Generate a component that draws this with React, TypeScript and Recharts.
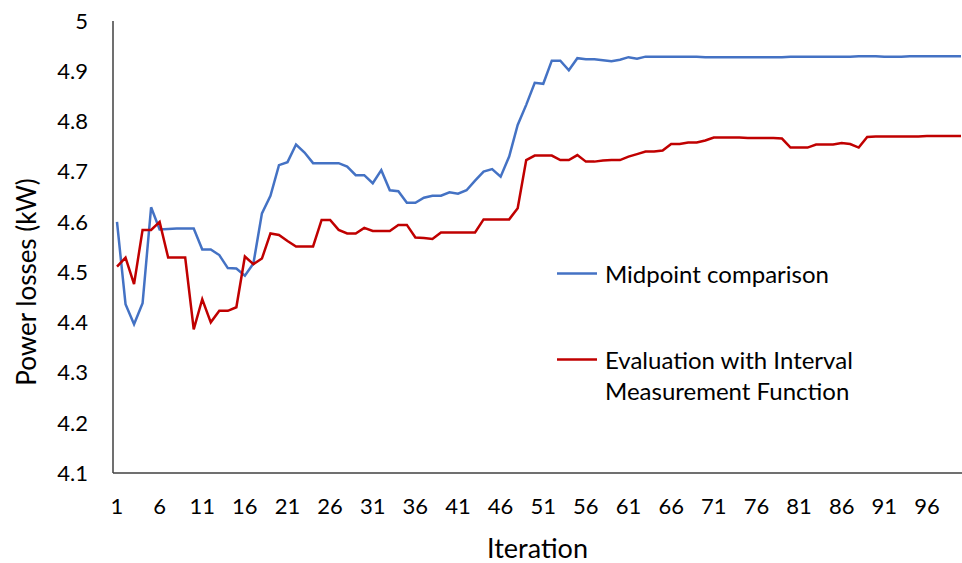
import React from 'react';
import { LineChart, Line, XAxis, YAxis, Label } from 'recharts';

const iterations = [
  1, 2, 3, 4, 5, 6, 7, 8, 9, 10, 11, 12, 13, 14, 15, 16, 17, 18, 19, 20,
  21, 22, 23, 24, 25, 26, 27, 28, 29, 30, 31, 32, 33, 34, 35, 36, 37, 38, 39, 40,
  41, 42, 43, 44, 45, 46, 47, 48, 49, 50, 51, 52, 53, 54, 55, 56, 57, 58, 59, 60,
  61, 62, 63, 64, 65, 66, 67, 68, 69, 70, 71, 72, 73, 74, 75, 76, 77, 78, 79, 80,
  81, 82, 83, 84, 85, 86, 87, 88, 89, 90, 91, 92, 93, 94, 95, 96, 97, 98, 99, 100,
];

const midpointComparison = [
  4.600, 4.436, 4.396, 4.438, 4.629, 4.585, 4.586, 4.587, 4.587, 4.587,
  4.545, 4.545, 4.534, 4.508, 4.507, 4.493, 4.517, 4.617, 4.652, 4.713,
  4.719, 4.754, 4.738, 4.717, 4.717, 4.717, 4.717, 4.710, 4.693, 4.693,
  4.677, 4.703, 4.663, 4.661, 4.638, 4.638, 4.648, 4.652, 4.652, 4.659,
  4.656, 4.663, 4.682, 4.700, 4.705, 4.690, 4.730, 4.793, 4.833, 4.877,
  4.875, 4.921, 4.921, 4.902, 4.926, 4.924, 4.924, 4.922, 4.920, 4.923,
  4.928, 4.925, 4.929, 4.929, 4.929, 4.929, 4.929, 4.929, 4.929, 4.928,
  4.928, 4.928, 4.928, 4.928, 4.928, 4.928, 4.928, 4.928, 4.928, 4.929,
  4.929, 4.929, 4.929, 4.929, 4.929, 4.929, 4.929, 4.930, 4.930, 4.930,
  4.929, 4.929, 4.929, 4.930, 4.930, 4.930, 4.930, 4.930, 4.930, 4.930,
];

const intervalEvaluation = [
  4.511, 4.529, 4.476, 4.584, 4.584, 4.600, 4.529, 4.529, 4.529, 4.386,
  4.446, 4.400, 4.423, 4.423, 4.430, 4.531, 4.516, 4.527, 4.577, 4.574,
  4.562, 4.551, 4.551, 4.551, 4.604, 4.604, 4.584, 4.577, 4.577, 4.588,
  4.582, 4.582, 4.582, 4.594, 4.594, 4.569, 4.568, 4.566, 4.579, 4.579,
  4.579, 4.579, 4.579, 4.605, 4.605, 4.605, 4.605, 4.627, 4.723, 4.732,
  4.732, 4.732, 4.723, 4.723, 4.733, 4.720, 4.720, 4.722, 4.723, 4.723,
  4.730, 4.735, 4.740, 4.740, 4.742, 4.755, 4.755, 4.758, 4.758, 4.762,
  4.768, 4.768, 4.768, 4.768, 4.767, 4.767, 4.767, 4.767, 4.766, 4.748,
  4.748, 4.748, 4.754, 4.754, 4.754, 4.757, 4.755, 4.748, 4.769, 4.770,
  4.770, 4.770, 4.770, 4.770, 4.770, 4.771, 4.771, 4.771, 4.771, 4.771,
];

const yTicks = [4.1, 4.2, 4.3, 4.4, 4.5, 4.6, 4.7, 4.8, 4.9, 5.0];

const seriesNames = ['Midpoint comparison', 'Evaluation with Interval Measurement Function'];
const legendLines = [['Midpoint comparison'], ['Evaluation with Interval', 'Measurement Function']];

const BLUE = '#4472C4';
const RED = '#C00000';
const seriesColors = [BLUE, RED];
const FONT = 'Lato, "Open Sans", sans-serif';
const AXIS = '#404040';

const data = iterations.map((it, i) => ({
  iteration: it,
  midpoint: midpointComparison[i],
  interval: intervalEvaluation[i],
}));

function ChartLegend() {
  return (
    <div
      style={{
        position: 'absolute',
        left: 555,
        top: 258,
        fontFamily: FONT,
        fontSize: 24,
        color: '#000',
      }}
    >
      {legendLines.map((lines, idx) => (
        <div
          key={idx}
          title={seriesNames[idx]}
          style={{ display: 'flex', alignItems: 'flex-start', marginTop: idx === 0 ? 0 : 55 }}
        >
          <svg width={50} height={31} style={{ flex: 'none' }}>
            <line x1={2} x2={42} y1={15.5} y2={15.5} stroke={seriesColors[idx]} strokeWidth={2.5} />
          </svg>
          <div style={{ lineHeight: '31px', whiteSpace: 'nowrap' }}>
            {lines.map((t, j) => (
              <div key={j}>{t}</div>
            ))}
          </div>
        </div>
      ))}
    </div>
  );
}

export default function App() {
  return (
    <div style={{ position: 'absolute', left: 0, top: 0, width: 962, height: 563, background: '#fff' }}>
      <LineChart
        width={962}
        height={563}
        data={data}
        margin={{ top: 21, right: 0, left: 0, bottom: 0 }}
      >
        <XAxis
          dataKey="iteration"
          interval={4}
          height={90}
          tickLine={false}
          tickSize={0}
          tickMargin={25}
          padding={{ left: 4, right: 1 }}
          axisLine={{ stroke: AXIS, strokeWidth: 1.5 }}
          tick={{ fill: '#000', fontSize: 22, fontFamily: FONT }}
        >
          <Label
            value="Iteration"
            position="insideBottom"
            offset={5}
            style={{ fill: '#000', fontSize: 27, fontFamily: FONT }}
          />
        </XAxis>
        <YAxis
          type="number"
          domain={[4.1, 5.0]}
          ticks={yTicks}
          width={113}
          tickLine={false}
          tickSize={0}
          tickMargin={25}
          interval={0}
          allowDataOverflow
          axisLine={{ stroke: AXIS, strokeWidth: 1.5 }}
          tick={{ fill: '#000', fontSize: 22, fontFamily: FONT }}
          tickFormatter={(v: number) => String(Number(v.toFixed(1)))}
        >
          <Label
            value="Power losses (kW)"
            angle={-90}
            position="insideLeft"
            offset={0}
            dx={27}
            dy={35}
            style={{ fill: '#000', fontSize: 26, fontFamily: FONT, textAnchor: 'middle' }}
          />
        </YAxis>
        <Line
          type="linear"
          dataKey="midpoint"
          name={seriesNames[0]}
          stroke={BLUE}
          strokeWidth={2.5}
          dot={false}
          activeDot={false}
          isAnimationActive={false}
        />
        <Line
          type="linear"
          dataKey="interval"
          name={seriesNames[1]}
          stroke={RED}
          strokeWidth={2.5}
          dot={false}
          activeDot={false}
          isAnimationActive={false}
        />
      </LineChart>
      <ChartLegend />
    </div>
  );
}
